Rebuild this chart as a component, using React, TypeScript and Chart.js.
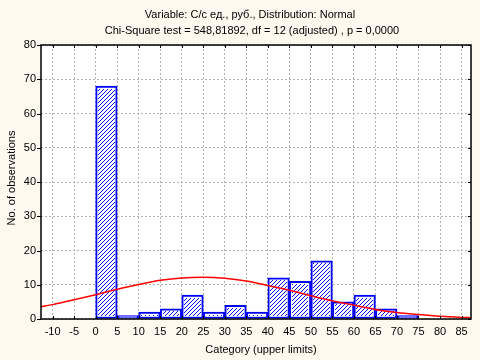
import React, { useEffect, useRef } from "react";
import { Chart, registerables } from "chart.js";

Chart.register(...registerables);

// Bin upper limits (bars span [limit-5, limit])
const binUpper = [5, 10, 15, 20, 25, 30, 35, 40, 45, 50, 55, 60, 65, 70, 75, 80];
const binCounts = [68, 1, 2, 3, 7, 2, 4, 2, 12, 11, 17, 5, 7, 3, 1, 0];
const binWidth = 5;

// Expected normal curve
const curveX = [-12.7, -10, -5, 0, 5, 10, 15, 20, 25, 30, 35, 40, 45, 50, 55, 60, 65, 70, 75, 80, 85, 87.2];
const curveY = [3.6, 4.2, 5.6, 7.1, 8.7, 10.1, 11.3, 12.0, 12.2, 11.9, 11.1, 9.8, 8.4, 6.8, 5.3, 4.0, 2.8, 1.9, 1.3, 0.8, 0.47, 0.37];

const titleLines = [
  "Variable: С/с ед., руб., Distribution: Normal",
  "Chi-Square test = 548,81892, df = 12 (adjusted) , p = 0,0000",
];
const xTitle = "Category (upper limits)";
const yTitle = "No. of observations";

const xMin = -12.7;
const xMax = 87.2;
const yMin = 0;
const yMax = 80;

const FONT = "'Liberation Sans', Arial, sans-serif";
const BAR_BORDER = 2;
const HATCH_PERIOD = 4;

export default function App() {
  const ref = useRef<HTMLCanvasElement>(null);
  useEffect(() => {
    document.body.style.margin = "0";
    const canvas = ref.current;
    if (!canvas) return;

    const framePlugin = {
      id: "frame",
      beforeDraw(chart: any) {
        const { ctx, chartArea: a } = chart;
        ctx.save();
        ctx.fillStyle = "#fdf9ee";
        ctx.fillRect(0, 0, chart.width, chart.height);
        ctx.fillStyle = "#ffffff";
        ctx.fillRect(a.left, a.top, a.right - a.left, a.bottom - a.top);
        ctx.restore();
      },
      afterDatasetDraw(chart: any, args: any) {
        if (args.index !== 1) return;
        const ctx = chart.ctx;
        ctx.save();
        ctx.fillStyle = "#0000ff";
        for (const el of args.meta.data) {
          const p = el.getProps(["x", "y", "base", "width"], true);
          const l = Math.ceil(p.x - p.width / 2 + BAR_BORDER);
          const r = Math.floor(p.x + p.width / 2 - BAR_BORDER);
          const t = Math.ceil(Math.min(p.y, p.base) + BAR_BORDER);
          const b = Math.floor(Math.max(p.y, p.base) - BAR_BORDER);
          for (let yy = t; yy < b; yy++) {
            for (let xx = l; xx < r; xx++) {
              if ((xx + yy) % HATCH_PERIOD === 0) ctx.fillRect(xx, yy, 1, 1);
            }
          }
        }
        ctx.restore();
      },
      afterDraw(chart: any) {
        const { ctx, chartArea: a } = chart;
        const xs = chart.scales.x;
        const ys = chart.scales.y;
        ctx.save();
        ctx.strokeStyle = "#000000";
        ctx.lineWidth = 1.5;
        ctx.strokeRect(a.left, a.top, a.right - a.left, a.bottom - a.top);
        ctx.lineWidth = 1;
        ctx.beginPath();
        for (const t of ys.ticks) {
          const y = Math.round(ys.getPixelForValue(t.value)) + 0.5;
          ctx.moveTo(a.left - 4, y);
          ctx.lineTo(a.left, y);
          ctx.moveTo(a.right, y);
          ctx.lineTo(a.right - 3, y);
        }
        for (const t of xs.ticks) {
          const x = Math.round(xs.getPixelForValue(t.value)) + 0.5;
          ctx.moveTo(x, a.bottom);
          ctx.lineTo(x, a.bottom - 3);
          ctx.moveTo(x, a.top);
          ctx.lineTo(x, a.top + 3);
        }
        ctx.stroke();

        ctx.fillStyle = "#000000";
        ctx.font = `11px ${FONT}`;
        ctx.textAlign = "center";
        ctx.textBaseline = "middle";
        ctx.fillText(titleLines[0], 250, 15);
        ctx.fillText(titleLines[1], 252, 31);
        ctx.fillText(xTitle, 261, 350);
        ctx.translate(12, 178);
        ctx.rotate(-Math.PI / 2);
        ctx.fillText(yTitle, 0, 0);
        ctx.restore();
      },
    };

    const chart = new Chart(canvas, {
      type: "bar",
      data: {
        datasets: [
          {
            type: "line",
            data: curveX.map((x, i) => ({ x, y: curveY[i] })),
            borderColor: "#ff0000",
            borderWidth: 1.5,
            pointRadius: 0,
            cubicInterpolationMode: "monotone",
            fill: false,
            order: 0,
          } as any,
          {
            type: "bar",
            data: binUpper.map((u, i) => ({ x: u - binWidth / 2, y: binCounts[i] })),
            backgroundColor: "#ffffff",
            borderColor: "#0000ff",
            borderWidth: BAR_BORDER,
            borderSkipped: false,
            barPercentage: 1,
            categoryPercentage: 1,
            order: 1,
          } as any,
        ],
      },
      options: {
        animation: false,
        responsive: false,
        maintainAspectRatio: false,
        layout: { padding: { top: 45, right: 9, left: 0, bottom: 0 } },
        plugins: {
          legend: { display: false },
          tooltip: { enabled: false },
          title: { display: false },
        },
        scales: {
          x: {
            type: "linear",
            min: xMin,
            max: xMax,
            offset: false,
            afterFit(scale: any) {
              scale.height = 41;
            },
            ticks: {
              stepSize: 5,
              includeBounds: false,
              color: "#000000",
              font: { family: FONT, size: 11 },
              padding: 6,
              maxRotation: 0,
              autoSkip: false,
            },
            grid: {
              color: "#b4b4b4",
              drawTicks: false,
              offset: false,
            },
            border: { display: false, dash: [2, 2] },
          },
          y: {
            type: "linear",
            min: yMin,
            max: yMax,
            afterFit(scale: any) {
              scale.width = 41;
            },
            ticks: {
              stepSize: 10,
              color: "#000000",
              font: { family: FONT, size: 11 },
              padding: 5,
            },
            grid: { color: "#b4b4b4", drawTicks: false },
            border: { display: false, dash: [2, 2] },
          },
        },
      } as any,
      plugins: [framePlugin],
    });
    return () => chart.destroy();
  }, []);

  return (
    <div style={{ position: "fixed", left: 0, top: 0, width: 480, height: 360 }}>
      <canvas ref={ref} width={480} height={360} style={{ width: 480, height: 360 }} />
    </div>
  );
}
